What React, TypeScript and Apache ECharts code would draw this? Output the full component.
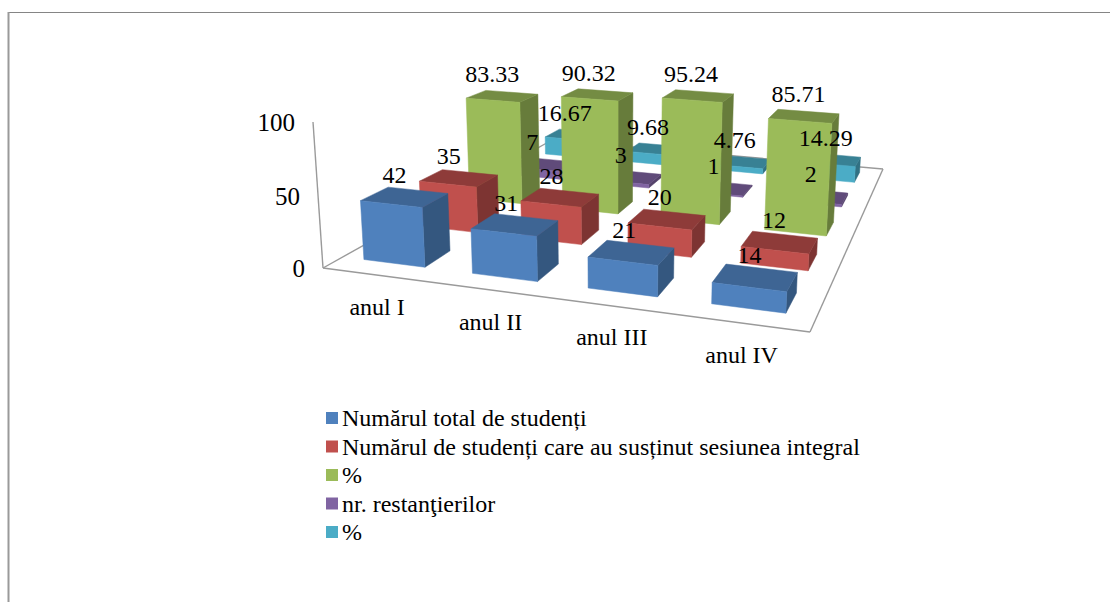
import React, { useEffect, useRef } from "react";
import * as echarts from "echarts";

const categories = ["anul I", "anul II", "anul III", "anul IV"];
const valueTicks = [0, 50, 100];
const totalStudents = [42, 31, 21, 14];
const fullSession = [35, 28, 20, 12];
const fullSessionPct = [83.33, 90.32, 95.24, 85.71];
const restanta = [7, 3, 1, 2];
const restantaPct = [16.67, 9.68, 4.76, 14.29];
const seriesNames = [
  "Numărul total de studenți",
  "Numărul de studenți care au susținut sesiunea integral",
  "%",
  "nr. restanţierilor",
  "% ",
];
const seriesValues = [totalStudents, fullSession, fullSessionPct, restanta, restantaPct];
const faceColors = [
  { front: "#4F81BD", top: "#3E6594", side: "#34577F" },
  { front: "#C0504D", top: "#8E3B39", side: "#7D3432" },
  { front: "#9BBB59", top: "#748C43", side: "#677C3B" },
  { front: "#8064A2", top: "#604B7A", side: "#54426B" },
  { front: "#4BACC6", top: "#388194", side: "#317183" },
];

// Perspective: floor corners and vertical vanishing point of the 3D box
const P00 = [323, 268];
const P10 = [810, 332];
const P11 = [883, 169];
const P01 = [552, 140];
const VZ = [614, 4519];
const RZ = -0.0332;

const det = (p: number[], q: number[]) => p[0] * q[1] - p[1] * q[0];
const dx1 = [P10[0] - P11[0], P10[1] - P11[1]];
const dx2 = [P01[0] - P11[0], P01[1] - P11[1]];
const sum = [P00[0] - P10[0] + P11[0] - P01[0], P00[1] - P10[1] + P11[1] - P01[1]];
const D = det(dx1, dx2);
const G = det(sum, dx2) / D;
const H = det(dx1, sum) / D;
const A = P10[0] - P00[0] + G * P10[0];
const B = P01[0] - P00[0] + H * P01[0];
const Dd = P10[1] - P00[1] + G * P10[1];
const E = P01[1] - P00[1] + H * P01[1];

function project(u: number, v: number, val: number): number[] {
  const z = val / 100;
  const w = G * u + H * v + 1 + RZ * z;
  return [
    (A * u + B * v + P00[0] + VZ[0] * RZ * z) / w,
    (Dd * u + E * v + P00[1] + VZ[1] * RZ * z) / w,
  ];
}

const FONT = '"Liberation Serif", "Times New Roman", serif';
const FONT_SIZE = 24;
const nCat = categories.length;
const nSer = seriesNames.length;
const LINE = "#9A9A9A";

function textEl(text: string, x: number, y: number, align = "center", size = FONT_SIZE) {
  return {
    type: "text",
    x,
    y,
    z2: 1000,
    silent: true,
    style: { text, fontFamily: FONT, fontSize: size, fill: "#000", align, verticalAlign: "middle" },
  };
}

function barRender(_: unknown, api: any) {
  const i = api.value(0);
  const j = api.value(1);
  const val = api.value(2);
  const u0 = (i + 0.2) / nCat;
  const u1 = (i + 0.77) / nCat;
  const v0 = (j + 0.3) / nSer;
  const v1 = (j + 0.75) / nSer;
  const c = faceColors[j];
  const z2 = (nSer - j) * 10;
  const poly = (points: number[][], fill: string) => ({
    type: "polygon",
    z2,
    silent: true,
    shape: { points },
    style: { fill, stroke: fill, lineWidth: 0.5 },
  });
  const um = (u0 + u1) / 2;
  const vm = (v0 + v1) / 2;
  const top = project(um, vm, val);
  const dx = -11 + 6 * um;
  return {
    type: "group",
    children: [
      poly(
        [project(u1, v0, 0), project(u1, v1, 0), project(u1, v1, val), project(u1, v0, val)],
        c.side,
      ),
      poly(
        [project(u0, v0, val), project(u1, v0, val), project(u1, v1, val), project(u0, v1, val)],
        c.top,
      ),
      poly(
        [project(u0, v0, 0), project(u1, v0, 0), project(u1, v0, val), project(u0, v0, val)],
        c.front,
      ),
      textEl(String(val), top[0] + dx, top[1] - 22),
    ],
  };
}

function floorRender() {
  const line = (a: number[], b: number[]) => ({
    type: "line",
    z2: 1,
    silent: true,
    shape: { x1: a[0], y1: a[1], x2: b[0], y2: b[1] },
    style: { stroke: LINE, lineWidth: 1.4 },
  });
  return {
    type: "group",
    children: [
      line(project(0, 0, 0), project(1, 0, 0)),
      line(project(1, 0, 0), project(1, 1, 0)),
      line(project(1, 1, 0), project(0, 1, 0)),
      line(project(0, 1, 0), project(0, 0, 0)),
      line(project(0, 0, 0), project(0, 0, 100)),
    ],
  };
}

function categoryRender(_: unknown, api: any) {
  const i = api.value(0);
  const p = project((i + 0.5) / nCat, 0, 0);
  return textEl(categories[i], p[0], p[1] + 31.5, "center", 24);
}

function tickRender(_: unknown, api: any) {
  const t = api.value(0);
  const p = project(0, 0, t);
  return textEl(String(t), p[0] - 18, p[1], "right", 25);
}

export default function App() {
  const ref = useRef<HTMLDivElement>(null);
  useEffect(() => {
    const chart = echarts.init(ref.current!, null, { renderer: "svg" });
    chart.setOption({
      animation: false,
      backgroundColor: "#fff",
      legend: {
        orient: "vertical",
        left: 321,
        top: 401,
        icon: "rect",
        itemWidth: 12,
        itemHeight: 12,
        itemGap: 4.5,
        selectedMode: false,
        data: seriesNames,
        textStyle: { fontFamily: FONT, fontSize: 24, color: "#000", padding: [0, 0, 0, -1] },
      },
      graphic: [
        {
          type: "line",
          silent: true,
          shape: { x1: 8, y1: 12.5, x2: 1110, y2: 12.5 },
          style: { stroke: "#858585", lineWidth: 1 },
        },
        {
          type: "line",
          silent: true,
          shape: { x1: 8.5, y1: 12, x2: 8.5, y2: 602 },
          style: { stroke: "#9A9A9A", lineWidth: 2 },
        },
      ],
      series: [
        {
          type: "custom",
          name: "floor",
          coordinateSystem: "none",
          silent: true,
          data: [[0]],
          renderItem: floorRender,
        },
        {
          type: "custom",
          name: "categoryLabels",
          coordinateSystem: "none",
          silent: true,
          data: categories.map((_, i) => [i]),
          renderItem: categoryRender,
        },
        {
          type: "custom",
          name: "valueTicks",
          coordinateSystem: "none",
          silent: true,
          data: valueTicks.map((t) => [t]),
          renderItem: tickRender,
        },
        ...seriesNames.map((name, j) => ({
          type: "custom",
          name,
          coordinateSystem: "none",
          silent: true,
          itemStyle: { color: faceColors[j].front },
          data: seriesValues[j].map((v, i) => [i, j, v]),
          renderItem: barRender,
        })),
      ],
    });
    return () => chart.dispose();
  }, []);
  return (
    <div
      ref={ref}
      style={{ position: "absolute", left: 0, top: 0, width: 1110, height: 602, background: "#fff" }}
    />
  );
}
